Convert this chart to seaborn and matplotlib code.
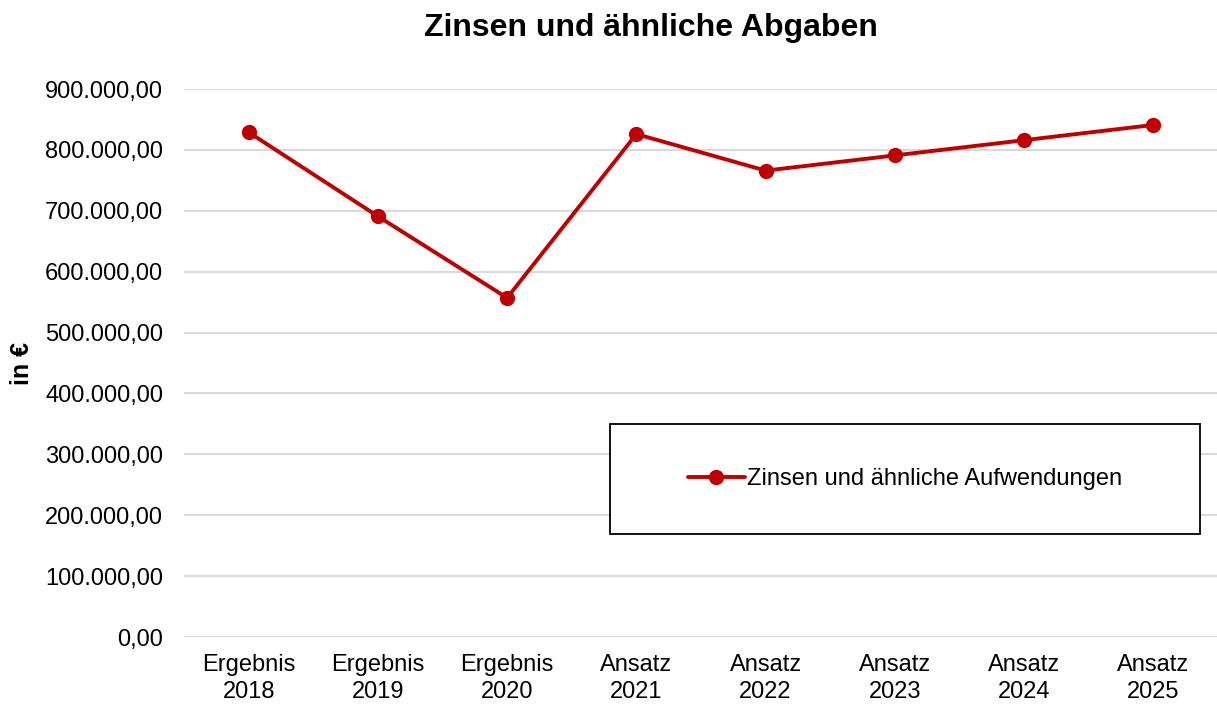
import matplotlib
matplotlib.use("Agg")
import matplotlib.pyplot as plt
import matplotlib.ticker as mticker
from matplotlib.patches import Rectangle
import pandas as pd
import seaborn as sns

# Daten
perioden = ["Ergebnis\n2018", "Ergebnis\n2019", "Ergebnis\n2020", "Ansatz\n2021",
            "Ansatz\n2022", "Ansatz\n2023", "Ansatz\n2024", "Ansatz\n2025"]
zinsen = [829000, 691000, 557000, 826000, 766000, 791000, 816000, 841000]
serie = "Zinsen und ähnliche Aufwendungen"
titel = "Zinsen und ähnliche Abgaben"

df = pd.DataFrame({"Periode": perioden, "Wert": zinsen})

sns.set_theme(style="white")
plt.rcParams["font.family"] = ["Liberation Sans", "DejaVu Sans"]
plt.rcParams["text.color"] = "black"

rot = "#C00000"

fig = plt.figure(figsize=(12.17, 7.06), dpi=100)
ax = fig.add_axes([0.1512, 0.0977, 0.8496, 0.7762])

sns.lineplot(data=df, x="Periode", y="Wert", marker="o", color=rot,
             linewidth=2.8, markersize=11, markeredgewidth=0, sort=False,
             label=serie, ax=ax)

ax.set_xlim(-0.5, len(perioden) - 0.5)
ax.set_ylim(0, 900000)
ax.yaxis.set_major_locator(mticker.MultipleLocator(100000))


def de_format(v, pos):
    s = f"{v:,.2f}"
    return s.replace(",", "X").replace(".", ",").replace("X", ".")


ax.yaxis.set_major_formatter(mticker.FuncFormatter(de_format))
ax.grid(axis="y", color="#D9D9D9", linewidth=1.5)
ax.set_axisbelow(True)
for s in ax.spines.values():
    s.set_visible(False)

ax.tick_params(axis="y", length=0, pad=15, labelsize=17, labelcolor="black")
ax.tick_params(axis="x", length=0, pad=12, labelsize=17, labelcolor="black")
for lbl in ax.get_xticklabels():
    lbl.set_linespacing(1.3)

ax.set_xlabel("")
ax.set_ylabel("in €", fontsize=18, fontweight="bold", color="black")
ax.yaxis.set_label_coords(-0.145, 0.5)

fig.suptitle(titel, fontsize=23, fontweight="bold", color="black",
             x=0.535, y=0.982)

# Legende mit eigenem Rahmen
bx0, by0, bx1, by1 = 0.412, 0.188, 0.983, 0.389
ax.add_patch(Rectangle((bx0, by0), bx1 - bx0, by1 - by0, transform=ax.transAxes,
                       facecolor="white", edgecolor="black", linewidth=1.3,
                       zorder=5))
leg = ax.legend(loc="center", bbox_to_anchor=((bx0 + bx1) / 2, (by0 + by1) / 2),
                frameon=False, fontsize=17, handlelength=2.4, handletextpad=0.1,
                labelcolor="black")
leg.set_zorder(6)

fig.savefig("out.png", dpi=100)
